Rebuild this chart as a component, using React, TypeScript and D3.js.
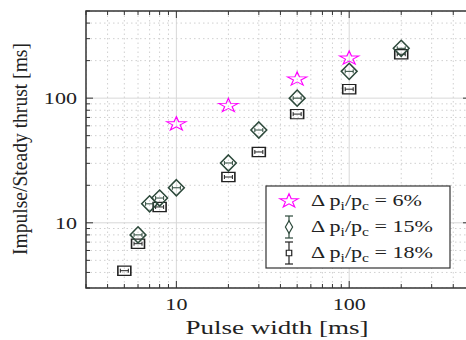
import React from "react";
import { scaleLog, symbol, symbolStar, symbolSquare, symbolDiamond } from "d3";

// series (log-log)
const starX = [10, 20, 50, 100];
const starY = [62, 87, 142, 209];
const diamondX = [6, 7, 8, 10, 20, 30, 50, 100, 200];
const diamondY = [8.0, 14.2, 15.8, 19.1, 30.2, 55.5, 100, 164, 251];
const squareX = [5, 6, 8, 20, 30, 50, 100, 200];
const squareY = [4.13, 6.8, 13.4, 23.3, 37, 74.5, 118, 225];

const xMajor = [10, 100];
const yMajor = [10, 100];
const legendLabels = ["6%", "15%", "18%"];

const W = 466;
const H = 340;
const m = { left: 86, top: 11, right: 470, bottom: 288 };
const font = "Liberation Serif";
const sx = 1.3; // text in the reference is stretched horizontally

function minorTicks(lo: number, hi: number) {
  const out: number[] = [];
  for (let d = 1; d <= 1000; d *= 10) {
    for (let k = 1; k < 10; k++) {
      const v = k * d;
      if (v >= lo && v <= hi) out.push(v);
    }
  }
  return out;
}

export default function App() {
  const x = scaleLog().domain([3, 500]).range([m.left, m.right]);
  const y = scaleLog().domain([3, 500]).range([m.bottom, m.top]);
  const ticks = minorTicks(3, 500);

  const star = symbol().type(symbolStar).size(75)()!;
  const diamond = symbol().type(symbolDiamond).size(75)()!;
  const square = symbol().type(symbolSquare).size(95)()!;
  const diamondColor = "#2e4a3c";
  const squareColor = "#222";

  const xerr = (cx: number, cy: number, c: string, key: string) => (
    <g key={key} stroke={c} strokeWidth={1}>
      <line x1={cx - 4} x2={cx + 4} y1={cy} y2={cy} />
      <line x1={cx - 4} x2={cx - 4} y1={cy - 2} y2={cy + 2} />
      <line x1={cx + 4} x2={cx + 4} y1={cy - 2} y2={cy + 2} />
    </g>
  );

  return (
    <svg width={W} height={H} style={{ position: "absolute", left: 0, top: 0 }}>
      <rect width={W} height={H} fill="#fff" />
      <clipPath id="plot">
        <rect x={m.left} y={m.top} width={m.right - m.left} height={m.bottom - m.top} />
      </clipPath>
      {/* grid */}
      <g clipPath="url(#plot)">
        {ticks.map((t) => (
          <line key={"gx" + t} x1={x(t)} x2={x(t)} y1={m.top} y2={m.bottom}
            stroke={xMajor.includes(t) ? "#d8d8d8" : "#d0d0d0"} strokeWidth={1}
            strokeDasharray={xMajor.includes(t) ? undefined : "1.5,3"} />
        ))}
        {ticks.map((t) => (
          <line key={"gy" + t} x1={m.left} x2={m.right} y1={y(t)} y2={y(t)}
            stroke={yMajor.includes(t) ? "#d8d8d8" : "#d0d0d0"} strokeWidth={1}
            strokeDasharray={yMajor.includes(t) ? undefined : "1.5,3"} />
        ))}
      </g>
      {/* frame */}
      <rect x={m.left} y={m.top} width={m.right - m.left} height={m.bottom - m.top}
        fill="none" stroke="#333" strokeWidth={1.5} />
      {/* ticks */}
      <g stroke="#333" strokeWidth={1}>
        {ticks.map((t) => {
          const len = xMajor.includes(t) ? 7 : 4;
          return (
            <g key={"tx" + t}>
              <line x1={x(t)} x2={x(t)} y1={m.bottom} y2={m.bottom - len} />
              <line x1={x(t)} x2={x(t)} y1={m.top} y2={m.top + len} />
            </g>
          );
        })}
        {ticks.map((t) => {
          const len = yMajor.includes(t) ? 7 : 4;
          return (
            <g key={"ty" + t}>
              <line x1={m.left} x2={m.left + len} y1={y(t)} y2={y(t)} />
              <line x1={m.right} x2={m.right - len} y1={y(t)} y2={y(t)} />
            </g>
          );
        })}
      </g>
      {/* tick labels */}
      {xMajor.map((t) => (
        <text key={"lx" + t} transform={`translate(${x(t)},310) scale(${sx},1)`} textAnchor="middle"
          fontFamily={font} fontSize={17} fill="#222">{t}</text>
      ))}
      {yMajor.map((t) => (
        <text key={"ly" + t} transform={`translate(77,${y(t) + 6}) scale(${sx},1)`} textAnchor="end"
          fontFamily={font} fontSize={17} fill="#222">{t}</text>
      ))}
      {/* axis labels */}
      <text x={277} y={334} textAnchor="middle" fontFamily={font} fontSize={18}
        textLength={183} lengthAdjust="spacingAndGlyphs" fill="#222">Pulse width [ms]</text>
      <text transform={`translate(27,149) rotate(-90)`} textAnchor="middle"
        fontFamily={font} fontSize={21} textLength={212} lengthAdjust="spacingAndGlyphs"
        fill="#222">Impulse/Steady thrust [ms]</text>

      {/* data */}
      <g clipPath="url(#plot)">
        {squareX.map((v, i) => (
          <g key={"s" + i}>
            <path d={square} transform={`translate(${x(v)},${y(squareY[i])}) scale(1.33,0.95)`}
              fill="none" stroke={squareColor} strokeWidth={1.2} />
            {xerr(x(v), y(squareY[i]), squareColor, "se" + i)}
          </g>
        ))}
        {diamondX.map((v, i) => (
          <g key={"d" + i}>
            <path d={diamond} transform={`translate(${x(v)},${y(diamondY[i])}) scale(1.7,1)`}
              fill="none" stroke={diamondColor} strokeWidth={1.1} />
            {xerr(x(v), y(diamondY[i]), diamondColor, "de" + i)}
          </g>
        ))}
        {starX.map((v, i) => (
          <path key={"st" + i} d={star} transform={`translate(${x(v)},${y(starY[i])}) scale(1.25,0.9)`}
            fill="none" stroke="#ff00ff" strokeWidth={1} />
        ))}
      </g>

      {/* legend */}
      <g>
        <rect x={266} y={186} width={184} height={82} fill="#fff" stroke="#333" strokeWidth={1.2} />
        {legendLabels.map((lab, i) => {
          const cy = 201 + i * 26;
          const cx = 289;
          let mark;
          if (i === 0) {
            mark = <path d={star} transform={`translate(${cx},${cy}) scale(1.2,0.9)`} fill="none" stroke="#ff00ff" strokeWidth={1} />;
          } else {
            const c = i === 1 ? diamondColor : squareColor;
            const sym = i === 1
              ? symbol().type(symbolDiamond).size(45)()!
              : symbol().type(symbolSquare).size(30)()!;
            mark = (
              <g stroke={c} strokeWidth={1.2}>
                <line x1={cx} x2={cx} y1={cy - 11} y2={cy + 11} />
                <line x1={cx - 4} x2={cx + 4} y1={cy - 11} y2={cy - 11} />
                <line x1={cx - 4} x2={cx + 4} y1={cy + 11} y2={cy + 11} />
                <path d={sym} transform={`translate(${cx},${cy})`} fill="#fff" />
              </g>
            );
          }
          return (
            <g key={"lg" + i}>
              {mark}
              <text transform={`translate(311,${cy + 5}) scale(${sx},1)`} fontFamily={font} fontSize={17} fill="#222">
                {"\u0394 p"}
                <tspan fontSize={12} dy={4}>i</tspan>
                <tspan dy={-4}>/p</tspan>
                <tspan fontSize={12} dy={4}>c</tspan>
                <tspan dy={-4}>{" = " + lab}</tspan>
              </text>
            </g>
          );
        })}
      </g>
    </svg>
  );
}
